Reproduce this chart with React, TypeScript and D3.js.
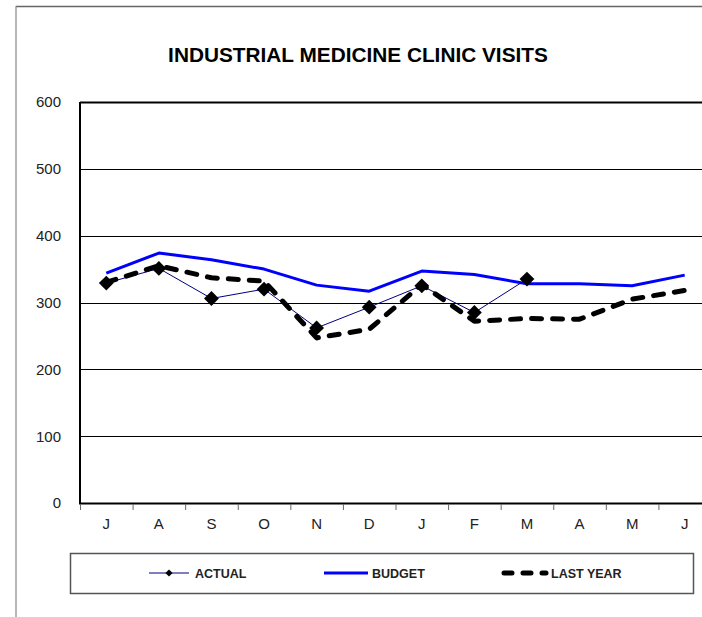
import React from "react";
import * as d3 from "d3";

const months = ["J", "A", "S", "O", "N", "D", "J", "F", "M", "A", "M", "J"];
const budget = [344, 374, 364, 350, 326, 317, 347, 342, 328, 328, 325, 341];
const actual = [329, 351, 306, 320, 262, 293, 325, 285, 335];
const lastYear = [330, 355, 337, 332, 247, 260, 327, 272, 276, 275, 305, 318];
const yTicks = [0, 100, 200, 300, 400, 500, 600];
const title = "INDUSTRIAL MEDICINE CLINIC VISITS";
const legendItems = ["ACTUAL", "BUDGET", "LAST YEAR"];

const W = 702;
const H = 617;
const FONT = "'Liberation Sans', Arial, sans-serif";

export default function App() {
  const keys = months.map((_, i) => String(i));
  const x = d3.scaleBand<string>().domain(keys).range([80, 711]).paddingInner(0).paddingOuter(0);
  const y = d3.scaleLinear().domain([0, 600]).range([503, 102]);
  const cx = (i: number) => (x(String(i)) as number) + x.bandwidth() / 2;

  const line = d3
    .line<number>()
    .x((_, i) => cx(i))
    .y((d) => y(d));

  const diamond = d3.symbol().type(d3.symbolSquare).size(110)();
  const diamondSmall = d3.symbol().type(d3.symbolSquare).size(26)();

  const legendY = 573;

  return (
    <svg
      width={W}
      height={H}
      style={{ position: "absolute", left: 0, top: 0, background: "#fff" }}
      fontFamily={FONT}
    >
      <rect x={0} y={0} width={W} height={H} fill="#fff" />
      {/* outer chart frame */}
      <line x1={16} x2={W} y1={6.5} y2={6.5} stroke="#666" strokeWidth={1.5} />
      <line x1={16} x2={16} y1={6} y2={H} stroke="#888" strokeWidth={1.2} />

      {/* title */}
      <text x={358} y={61.5} textAnchor="middle" fontWeight="bold" fontSize={20.8} fill="#000">
        {title}
      </text>

      {/* gridlines */}
      {yTicks
        .filter((t) => t > 0 && t < 600)
        .map((t) => (
          <line key={t} x1={80} x2={W} y1={Math.round(y(t)) + 0.5} y2={Math.round(y(t)) + 0.5} stroke="#000" strokeWidth={1} />
        ))}

      {/* plot border */}
      <line x1={80} x2={W} y1={102.5} y2={102.5} stroke="#000" strokeWidth={2} />
      <line x1={80} x2={80} y1={102} y2={504} stroke="#000" strokeWidth={2} />
      <line x1={79} x2={W} y1={503.5} y2={503.5} stroke="#000" strokeWidth={2} />

      {/* x ticks */}
      {keys.map((k) => (
        <line key={k} x1={(x(k) as number) + 0.5} x2={(x(k) as number) + 0.5} y1={504} y2={510} stroke="#666" strokeWidth={1} />
      ))}

      {/* y labels */}
      {yTicks.map((t) => (
        <text key={t} x={61} y={y(t)} dy="0.36em" textAnchor="end" fontSize={15} fill="#222">
          {t}
        </text>
      ))}

      {/* x labels */}
      {months.map((m, i) => (
        <text key={i} x={cx(i)} y={528.5} textAnchor="middle" fontSize={15} fill="#222">
          {m}
        </text>
      ))}

      {/* series */}
      <path d={line(budget) || ""} fill="none" stroke="#0000FF" strokeWidth={3} strokeLinejoin="round" />
      <path d={line(actual) || ""} fill="none" stroke="#000080" strokeWidth={1} />
      <path
        d={line(lastYear) || ""}
        fill="none"
        stroke="#000"
        strokeWidth={5}
        strokeDasharray="10,11"
        strokeLinecap="round"
        strokeLinejoin="round"
      />
      {actual.map((v, i) => (
        <path key={i} d={diamond || ""} transform={`translate(${cx(i)},${y(v)}) rotate(45)`} fill="#000" />
      ))}

      {/* legend */}
      <rect x={70.5} y={553.5} width={623} height={40} fill="#fff" stroke="#555" strokeWidth={1.5} />
      <line x1={149} x2={189} y1={legendY} y2={legendY} stroke="#000080" strokeWidth={1} />
      <path d={diamondSmall || ""} transform={`translate(169,${legendY}) rotate(45)`} fill="#000" />
      <text x={195} y={legendY} dy="0.36em" fontSize={12.5} fontWeight="bold" fill="#222">
        {legendItems[0]}
      </text>
      <line x1={324} x2={368} y1={legendY} y2={legendY} stroke="#0000FF" strokeWidth={3} />
      <text x={372} y={legendY} dy="0.36em" fontSize={12.5} fontWeight="bold" fill="#222">
        {legendItems[1]}
      </text>
      <line
        x1={504}
        x2={546}
        y1={legendY}
        y2={legendY}
        stroke="#000"
        strokeWidth={5}
        strokeDasharray="8,11"
        strokeLinecap="round"
      />
      <text x={551} y={legendY} dy="0.36em" fontSize={12.5} fontWeight="bold" fill="#222">
        {legendItems[2]}
      </text>
    </svg>
  );
}
